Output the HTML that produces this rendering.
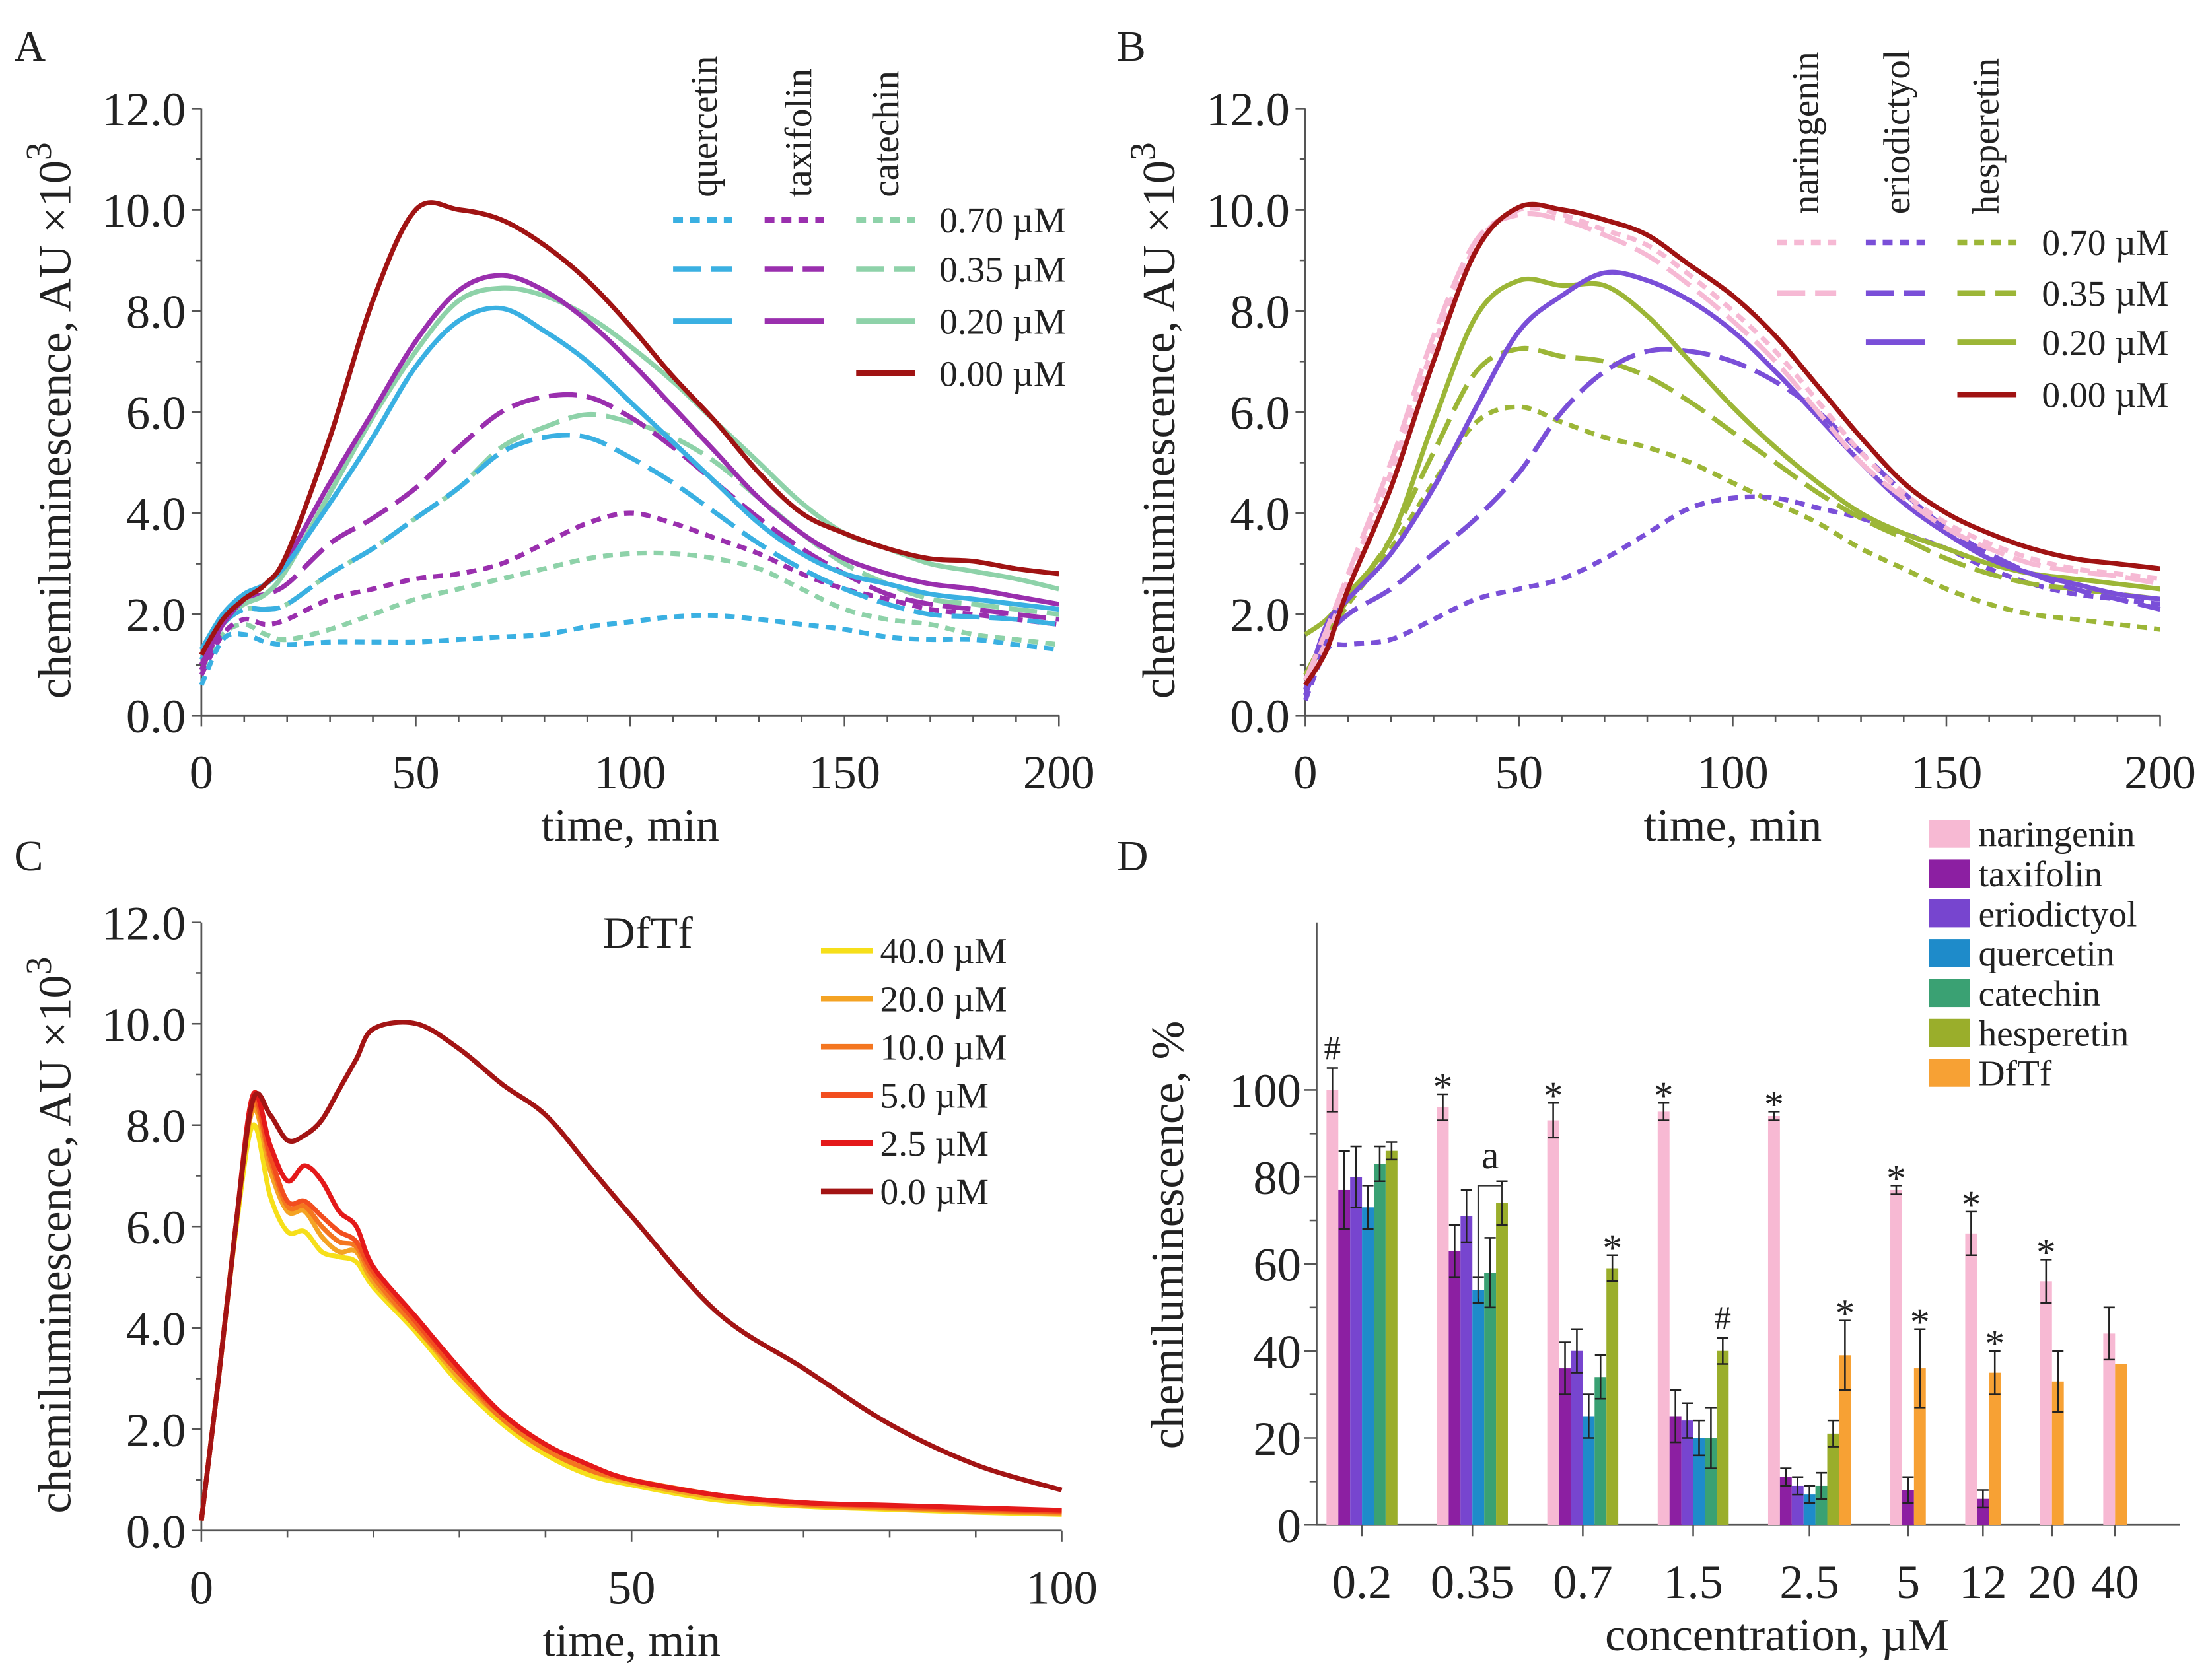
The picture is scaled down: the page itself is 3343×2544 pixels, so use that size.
<!DOCTYPE html>
<html><head><meta charset="utf-8"><style>
html,body{margin:0;padding:0;background:#fff}
svg{display:block}
text{font-family:"Liberation Serif",serif;fill:#222}
</style></head><body>
<svg id="fig" xmlns="http://www.w3.org/2000/svg" width="3343" height="2544" viewBox="0 0 1568 1193">
<g id="root"></g>
</svg>
<script>
// ---------- DATA ----------
const tA = [0,5,10,15,20,30,40,50,60,70,80,90,100,110,120,130,140,150,160,170,180,190,200];
const aCtrl = [1.2,1.9,2.3,2.6,3.2,5.5,8.2,10.0,10.0,9.8,9.3,8.6,7.7,6.7,5.8,4.8,4.0,3.6,3.3,3.1,3.05,2.9,2.8];
const aQue20 = [1.3,2.0,2.4,2.6,3.0,4.2,5.5,6.9,7.8,8.05,7.6,7.0,6.2,5.4,4.6,3.8,3.2,2.8,2.6,2.4,2.3,2.2,2.1];
const aQue35 = [1.1,1.8,2.1,2.1,2.2,2.8,3.3,3.9,4.5,5.2,5.5,5.5,5.1,4.6,4.0,3.4,2.9,2.5,2.2,2.0,1.95,1.9,1.8];
const aQue70 = [0.6,1.5,1.6,1.45,1.4,1.45,1.45,1.45,1.5,1.55,1.6,1.75,1.85,1.95,1.97,1.9,1.8,1.7,1.55,1.5,1.5,1.4,1.3];
const aTax20 = [1.0,1.8,2.3,2.6,3.1,4.6,6.0,7.4,8.4,8.7,8.4,7.8,7.0,6.1,5.2,4.3,3.6,3.1,2.8,2.6,2.5,2.35,2.2];
const aTax35 = [0.9,1.8,2.3,2.4,2.6,3.4,3.9,4.5,5.3,6.0,6.3,6.3,5.9,5.3,4.6,3.9,3.3,2.8,2.4,2.2,2.1,2.0,1.9];
const aTax70 = [0.8,1.6,1.9,1.8,1.9,2.3,2.5,2.7,2.8,3.0,3.4,3.8,4.0,3.8,3.5,3.2,2.8,2.5,2.3,2.1,2.0,1.9,1.8];
const aCat20 = [1.2,1.9,2.2,2.4,2.9,4.4,5.9,7.2,8.2,8.45,8.3,7.9,7.3,6.6,5.8,5.0,4.2,3.6,3.3,3.0,2.85,2.7,2.5];
const aCat35 = [1.0,1.8,2.1,2.1,2.2,2.8,3.3,3.9,4.5,5.3,5.7,5.95,5.8,5.5,5.0,4.3,3.6,3.0,2.6,2.3,2.2,2.1,2.0];
const aCat70 = [0.9,1.6,1.8,1.6,1.5,1.7,2.0,2.3,2.5,2.7,2.9,3.1,3.2,3.2,3.1,2.9,2.5,2.1,1.9,1.8,1.6,1.5,1.4];
const tB = [0,5,10,20,30,40,50,60,70,80,90,100,110,120,130,140,150,160,170,180,190,200];
const bCtrl = [0.6,1.3,2.5,4.5,7.0,9.2,10.05,10.0,9.8,9.5,8.9,8.3,7.5,6.5,5.5,4.6,4.0,3.6,3.3,3.1,3.0,2.9];
const bNar70 = [0.6,1.5,2.7,4.8,7.3,9.3,10.0,9.9,9.6,9.3,8.7,8.0,7.2,6.2,5.2,4.4,3.8,3.4,3.1,2.9,2.8,2.7];
const bNar35 = [0.7,1.7,2.8,5.0,7.5,9.4,9.9,9.8,9.5,9.1,8.5,7.8,7.0,6.0,5.0,4.3,3.7,3.3,3.0,2.85,2.75,2.6];
const bEri20 = [0.5,1.8,2.3,3.2,4.5,6.1,7.6,8.3,8.75,8.6,8.2,7.6,6.8,5.9,5.0,4.2,3.6,3.1,2.8,2.6,2.4,2.3];
const bEri35 = [0.4,1.5,2.0,2.5,3.2,3.9,4.8,6.0,6.8,7.2,7.2,7.0,6.6,6.0,5.2,4.4,3.7,3.2,2.8,2.5,2.3,2.1];
const bEri70 = [0.3,1.3,1.4,1.5,1.9,2.3,2.5,2.7,3.1,3.6,4.1,4.3,4.3,4.1,3.9,3.6,3.3,2.9,2.6,2.4,2.3,2.2];
const bHes20 = [1.6,1.9,2.4,3.5,5.8,7.9,8.6,8.5,8.5,7.9,7.0,6.1,5.3,4.6,4.0,3.6,3.3,3.0,2.8,2.7,2.6,2.5];
const bHes35 = [0.8,1.6,2.3,3.5,5.2,6.8,7.25,7.1,7.0,6.7,6.2,5.6,5.0,4.4,3.9,3.5,3.1,2.8,2.6,2.5,2.4,2.3];
const bHes70 = [0.8,1.5,2.2,3.3,4.6,5.8,6.1,5.8,5.5,5.3,5.0,4.6,4.2,3.8,3.3,2.9,2.5,2.2,2.0,1.9,1.8,1.7];
const tC = [0,2,4,6,8,10,12,14,16,18,20,25,30,35,40,45,50,60,70,80,90,100];
const cCtrl = [0.2,3.0,6.0,8.5,8.2,7.7,7.8,8.1,8.7,9.3,9.9,10.0,9.5,8.8,8.2,7.2,6.2,4.3,3.2,2.1,1.3,0.8];
const c25 = [0.2,3.0,6.0,8.6,7.6,6.9,7.2,6.9,6.3,6.0,5.2,4.2,3.2,2.3,1.7,1.3,1.0,0.7,0.55,0.5,0.45,0.4];
const c5 = [0.2,3.0,6.0,8.5,7.4,6.5,6.5,6.2,5.9,5.7,5.1,4.1,3.1,2.3,1.7,1.3,1.0,0.7,0.55,0.48,0.42,0.38];
const c10 = [0.2,3.0,6.0,8.4,7.3,6.4,6.4,6.0,5.7,5.6,5.0,4.0,3.1,2.2,1.6,1.2,1.0,0.7,0.52,0.46,0.4,0.36];
const c20 = [0.2,3.0,6.0,8.3,7.1,6.3,6.3,5.8,5.5,5.5,4.9,4.0,3.0,2.2,1.6,1.2,0.95,0.65,0.5,0.44,0.38,0.34];
const c40 = [0.2,3.0,5.9,8.0,6.6,5.9,5.9,5.5,5.4,5.3,4.8,3.9,2.9,2.1,1.5,1.1,0.9,0.6,0.48,0.42,0.36,0.32];
const dCats = ["0.2","0.35","0.7","1.5","2.5","5","12","20","40"];
const dSeries = ["naringenin","taxifolin","eriodictyol","quercetin","catechin","hesperetin","DfTf"];
const dNar = [100,96,93,95,94,77,67,56,44];
const dTax = [77,63,36,25,11,8,6,null,null];
const dEri = [80,71,40,24,9,null,null,null,null];
const dQue = [73,54,25,20,7,null,null,null,null];
const dCat = [83,58,34,20,9,null,null,null,null];
const dHes = [86,74,59,40,21,null,null,null,null];
const dDft = [null,null,null,null,39,36,35,33,37];
const eNar = [5,3,4,2,1,1,5,5,6];
const eTax = [9,6,6,6,2,3,2,null,null];
const eEri = [7,6,5,4,2,null,null,null,null];
const eQue = [5,3,5,4,2,null,null,null,null];
const eCat = [4,8,5,7,3,null,null,null,null];
const eHes = [2,5,3,3,3,null,null,null,null];
const eDft = [null,null,null,null,8,9,5,7,0];
const dNarMark = ["#","*","*","*","*","*","*","*",""];
const dHesMark = ["","","*","#","","","","",""];
const dDftMark = ["","","","","*","*","*","",""];
const yTicksTime = [0,2,4,6,8,10,12];
const xTicksA = [0,50,100,150,200];
const xTicksC = [0,50,100];
const yTicksD = [0,20,40,60,80,100];

// ---------- HELPERS ----------
const NS="http://www.w3.org/2000/svg";
const root=document.getElementById('root');
const TF=34, AF=33;
function el(tag,attrs,parent,txt){const e=document.createElementNS(NS,tag);for(const k in attrs)e.setAttribute(k,attrs[k]);if(txt!==undefined)e.textContent=txt;(parent||root).appendChild(e);return e;}
function smooth(pts){let d=`M${pts[0][0]},${pts[0][1]}`;for(let i=0;i<pts.length-1;i++){const p0=pts[Math.max(0,i-1)],p1=pts[i],p2=pts[i+1],p3=pts[Math.min(pts.length-1,i+2)];const c1=[p1[0]+(p2[0]-p0[0])/6,p1[1]+(p2[1]-p0[1])/6],c2=[p2[0]-(p3[0]-p1[0])/6,p2[1]-(p3[1]-p1[1])/6];d+=`C${c1[0].toFixed(1)},${c1[1].toFixed(1)} ${c2[0].toFixed(1)},${c2[1].toFixed(1)} ${p2[0].toFixed(1)},${p2[1].toFixed(1)}`;}return d;}
const DOT="7 5", DASH="20 7";

function linePanel(cfg){
  const g=el('g',{});
  
  
  const X=v=>cfg.x0+(v-cfg.xmin)/(cfg.xmax-cfg.xmin)*(cfg.x1-cfg.x0);
  const Y=v=>cfg.y0-(v/12)*(cfg.y0-cfg.y1);
  const ax=el('path',{d:`M${cfg.x0},${cfg.y1}V${cfg.y0}H${cfg.x1}`,stroke:'#555',fill:'none','stroke-width':1.3},g);
  
  for(let v=0;v<=12;v+=1){el('line',{x1:cfg.x0-(v%2?4:7),x2:cfg.x0,y1:Y(v),y2:Y(v),stroke:'#555','stroke-width':1.2},g);}
  for(let v=cfg.xmin;v<=cfg.xmax;v+=cfg.minor){const maj=cfg.xt.includes(v);el('line',{x1:X(v),x2:X(v),y1:cfg.y0,y2:cfg.y0+(maj?8:5),stroke:'#555','stroke-width':1.2},g);}
  yTicksTime.forEach(v=>{const t=el('text',{x:cfg.x0-11,y:Y(v)+12,'font-size':TF,'text-anchor':'end'},g,v.toFixed(1));});
  cfg.xt.forEach(v=>{const t=el('text',{x:X(v),y:cfg.y0+52,'font-size':TF,'text-anchor':'middle'},g,String(v));});
  const xt=el('text',{x:(cfg.x0+cfg.x1)/2,y:cfg.y0+89,'font-size':AF,'text-anchor':'middle'},g,'time, min');
  
  const yt=el('text',{x:0,y:0,'font-size':AF,'text-anchor':'middle',transform:`translate(${cfg.x0-93},${(cfg.y0+cfg.y1)/2+6}) rotate(-90)`},g);
  
  yt.appendChild(document.createTextNode('chemiluminescence, AU  ×10'));
  el('tspan',{'font-size':26,dy:-14},yt,'3');
  const lt=el('text',{x:cfg.lx,y:cfg.ly,'font-size':31},g,cfg.letter);
  
  cfg.series.forEach(s=>{const pts=cfg.t.map((t,i)=>[X(t),Y(s.v[i])]);
    const p=el('path',{d:smooth(pts),fill:'none',stroke:s.c,'stroke-width':3.4,'stroke-dasharray':s.dash||'none','stroke-linecap':'butt'},g);
    });
  return g;
}

const QC='#3ab0e2',TX='#9a2fae',CT='#8ed2a9',DR='#a01313';
const NR='#f6b9d4',ER='#7a4fd8',HS='#9cb637';
linePanel({name:'panel-a-chart',letter:'A',lx:10,ly:43,x0:143,x1:752,y0:508,y1:77,xmin:0,xmax:200,minor:10,xt:xTicksA,t:tA,series:[
 {n:'catechin-0.70',v:aCat70,c:CT,dash:DOT},{n:'taxifolin-0.70',v:aTax70,c:TX,dash:DOT},{n:'quercetin-0.70',v:aQue70,c:QC,dash:DOT},
 {n:'catechin-0.35',v:aCat35,c:CT,dash:DASH},{n:'quercetin-0.35',v:aQue35,c:QC,dash:DASH},{n:'taxifolin-0.35',v:aTax35,c:TX,dash:DASH},
 {n:'catechin-0.20',v:aCat20,c:CT},{n:'taxifolin-0.20',v:aTax20,c:TX},{n:'quercetin-0.20',v:aQue20,c:QC},{n:'control-0.00',v:aCtrl,c:DR}]});
linePanel({name:'panel-b-chart',letter:'B',lx:793,ly:43,x0:927,x1:1534,y0:508,y1:77,xmin:0,xmax:200,minor:10,xt:xTicksA,t:tB,series:[
 {n:'hesperetin-0.70',v:bHes70,c:HS,dash:DOT},{n:'eriodictyol-0.70',v:bEri70,c:ER,dash:DOT},
 {n:'hesperetin-0.35',v:bHes35,c:HS,dash:DASH},{n:'eriodictyol-0.35',v:bEri35,c:ER,dash:DASH},
 {n:'hesperetin-0.20',v:bHes20,c:HS},{n:'eriodictyol-0.20',v:bEri20,c:ER},
 {n:'naringenin-0.35',v:bNar35,c:NR,dash:DASH},{n:'naringenin-0.70',v:bNar70,c:NR,dash:DOT},{n:'control-0.00',v:bCtrl,c:DR}]});
const cCols=['#f6df1a','#f4a324','#f47620','#f24e1f','#e4191a','#a31414'];
linePanel({name:'panel-c-chart',letter:'C',lx:10,ly:618,x0:143,x1:754,y0:1087,y1:655,xmin:0,xmax:100,minor:10,xt:xTicksC,t:tC,series:[
 {n:'dftf-40.0',v:c40,c:cCols[0]},{n:'dftf-20.0',v:c20,c:cCols[1]},{n:'dftf-10.0',v:c10,c:cCols[2]},{n:'dftf-5.0',v:c5,c:cCols[3]},{n:'dftf-2.5',v:c25,c:cCols[4]},{n:'dftf-0.0',v:cCtrl,c:cCols[5]}]});

function legendRow(g,x0,segs,y,label){segs.forEach(s=>{if(!s)return;el('line',{x1:s[0],x2:s[0]+42,y1:y,y2:y,stroke:s[1],'stroke-width':4,'stroke-dasharray':s[2]||'none'},g);});
 const t=el('text',{x:x0,y:y+9,'font-size':26},g,label);}
let lg=el('g',{});
[['quercetin',509],['taxifolin',576],['catechin',638]].forEach(([n,x])=>{const t=el('text',{x:0,y:0,'font-size':27,transform:`translate(${x},140) rotate(-90)`},lg,n);});
legendRow(lg,667,[[478,QC,DOT],[543,TX,DOT],[608,CT,DOT]],156,'0.70 µM');
legendRow(lg,667,[[478,QC,DASH],[543,TX,DASH],[608,CT,DASH]],191,'0.35 µM');
legendRow(lg,667,[[478,QC],[543,TX],[608,CT]],228,'0.20 µM');
legendRow(lg,667,[null,null,[608,DR]],265,'0.00 µM');
lg=el('g',{});
[['naringenin',1291],['eriodictyol',1356],['hesperetin',1419]].forEach(([n,x])=>{const t=el('text',{x:0,y:0,'font-size':27,transform:`translate(${x},152) rotate(-90)`},lg,n);});
legendRow(lg,1450,[[1262,NR,DOT],[1325,ER,DOT],[1390,HS,DOT]],172,'0.70 µM');
legendRow(lg,1450,[[1262,NR,DASH],[1325,ER,DASH],[1390,HS,DASH]],208,'0.35 µM');
legendRow(lg,1450,[null,[1325,ER],[1390,HS]],243,'0.20 µM');
legendRow(lg,1450,[null,null,[1390,DR]],280,'0.00 µM');
lg=el('g',{});
['40.0 µM','20.0 µM','10.0 µM','5.0 µM','2.5 µM','0.0 µM'].forEach((lab,i)=>{const y=675+i*34.2;el('line',{x1:583,x2:620,y1:y,y2:y,stroke:cCols[i],'stroke-width':4},lg);const t=el('text',{x:625,y:y+9,'font-size':26},lg,lab);});
const dft=el('text',{x:428,y:673,'font-size':32},root,'DfTf');

// ---------- PANEL D ----------
const gD=el('g',{});
const dx0=935,dx1=1548,dy0=1083,dyTop=655,yPer=3.09;
const YD=v=>dy0-v*yPer;
const dVals=[dNar,dTax,dEri,dQue,dCat,dHes,dDft];
const dErrs=[eNar,eTax,eEri,eQue,eCat,eHes,eDft];
const dCols=['#f7b9d3','#8c1fa2','#7745cf','#1e8bca','#3aa173','#9aae2b','#f7a134'];
const bw=8.4,gap=28;
el('path',{d:`M${dx0},${dyTop}V${dy0}H${dx1}`,stroke:'#555',fill:'none','stroke-width':1.3},gD);
for(let v=0;v<=105;v+=10){el('line',{x1:dx0-(v%20?5:9),x2:dx0,y1:YD(v),y2:YD(v),stroke:'#555','stroke-width':1.2},gD);}
yTicksD.forEach(v=>{const t=el('text',{x:dx0-11,y:YD(v)+12,'font-size':TF,'text-anchor':'end'},gD,String(v));});
let cursor=942;
dCats.forEach((cat,ci)=>{
  const present=dVals.map((s,si)=>si).filter(si=>dVals[si][ci]!==null);
  const start=cursor;
  present.forEach((si,k)=>{
    const v=dVals[si][ci],e=dErrs[si][ci],x=start+k*bw;
    const r=el('rect',{x:x,y:YD(v),width:bw,height:v*yPer,fill:dCols[si]},gD);
    
    
    const cx=x+bw/2;
    if(e>0){el('path',{d:`M${cx},${YD(v+e)}V${YD(v-e)}M${cx-4},${YD(v+e)}h8M${cx-4},${YD(v-e)}h8`,stroke:'#222','stroke-width':1.2,fill:'none'},gD);}
    const mk=si===0?dNarMark[ci]:si===5?dHesMark[ci]:si===6?dDftMark[ci]:'';
    if(mk){const t=el('text',{x:cx,y:YD(v+(e||0))-(mk==='*'?-4:6),'font-size':mk==='*'?28:24,'text-anchor':'middle'},gD,mk);}
  });
  const end=start+present.length*bw, cx=(start+end)/2;
  el('line',{x1:cx,x2:cx,y1:dy0,y2:dy0+8,stroke:'#555','stroke-width':1.2},gD);
  const t=el('text',{x:cx,y:dy0+52,'font-size':TF,'text-anchor':'middle'},gD,cat);
  
  if(ci===1){const xa=start+3*bw+bw/2,xb=start+5*bw+bw/2;el('path',{d:`M${xa},${YD(52)}V${YD(78)}H${xb}V${YD(74)}`,stroke:'#333',fill:'none','stroke-width':1.2},gD);const at=el('text',{x:(xa+xb)/2,y:YD(82),'font-size':28,'text-anchor':'middle'},gD,'a');}
  cursor=end+gap;
});
let t=el('text',{x:1262,y:1172,'font-size':AF,'text-anchor':'middle'},gD,'concentration, µM');
t=el('text',{x:0,y:0,'font-size':AF,'text-anchor':'middle',transform:`translate(840,${(dy0+dyTop)/2+8}) rotate(-90)`},gD,'chemiluminescence, %');
t=el('text',{x:793,y:618,'font-size':31},gD,'D');
const gL=el('g',{},gD);
dSeries.forEach((n,i)=>{const y=582+i*28.3;const r=el('rect',{x:1370,y:y,width:29,height:20,fill:dCols[i]},gL);const tt=el('text',{x:1405,y:y+19,'font-size':26},gL,n);});
</script>
</body></html>
